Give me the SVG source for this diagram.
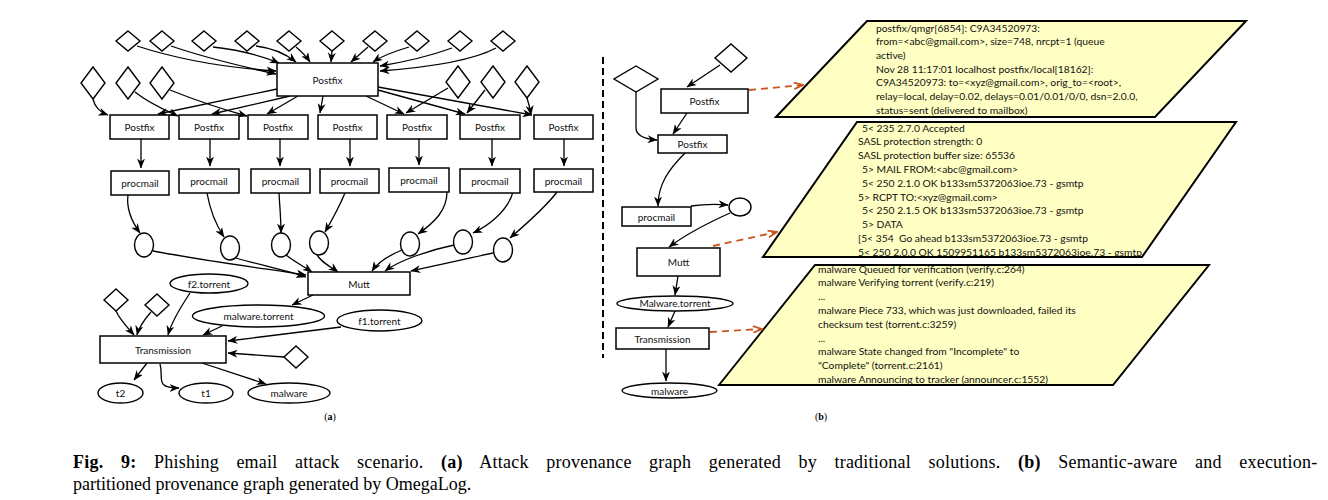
<svg xmlns="http://www.w3.org/2000/svg" width="1328" height="500" viewBox="0 0 1328 500">
<defs>
<style>
.b{fill:#fff;stroke:#000;stroke-width:1.5}
.d{fill:#fff;stroke:#000;stroke-width:1.4}
.t{font-family:Lato,"DejaVu Sans",sans-serif;font-size:10px;fill:#111;text-anchor:middle;dominant-baseline:central}
.e{fill:none;stroke:#000;stroke-width:1.3;marker-end:url(#ah)}
.o{fill:none;stroke:#c8561e;stroke-width:1.8;stroke-dasharray:7,5;marker-end:url(#oh)}
.p{fill:#ffffc4;stroke:#000;stroke-width:2}
.l{font-family:Lato,"DejaVu Sans",sans-serif;font-size:10.3px;fill:#111}
.cap{font-family:"Liberation Serif","Times New Roman",serif;font-size:19.5px;fill:#000}
.sl{font-family:"Liberation Serif",serif;font-size:10px;fill:#000;text-anchor:middle}
</style>
<marker id="ah" viewBox="0 0 10 8" refX="9.5" refY="4" markerWidth="10" markerHeight="8" markerUnits="userSpaceOnUse" orient="auto"><path d="M0,0 L10,4 L0,8 L3,4 Z" fill="#000"/></marker>
<marker id="oh" viewBox="0 0 10 8" refX="9" refY="4" markerWidth="11" markerHeight="8" markerUnits="userSpaceOnUse" orient="auto"><path d="M0,0.7 L9,4 L0,7.3" fill="none" stroke="#c8561e" stroke-width="1.8"/></marker>
</defs>
<rect width="1328" height="500" fill="#fff"/>

<!-- ===== (a) left graph ===== -->
<g id="connectors-a">
<path class="e" d="M137,46 C180,60 230,68 276,71"/>
<path class="e" d="M171,46 C200,56 240,66 276,74"/>
<path class="e" d="M213,47 C240,50 262,56 279,63"/>
<path class="e" d="M256,46 C272,48 286,54 296,62"/>
<path class="e" d="M296,47 C302,52 306,56 310,62"/>
<path class="e" d="M332,51 L331,62"/>
<path class="e" d="M368,47 L351,62"/>
<path class="e" d="M409,47 C392,52 382,56 373,62"/>
<path class="e" d="M452,48 C430,56 404,62 380,66"/>
<path class="e" d="M496,48 C470,62 420,68 380,71"/>
<path class="e" d="M93,99 C95,108 100,112 108,115"/>
<path class="e" d="M135,92 C150,104 165,110 178,116"/>
<path class="e" d="M170,90 C200,102 225,110 247,116"/>
<path class="e" d="M277,89 L158,114"/>
<path class="e" d="M290,96 L212,114"/>
<path class="e" d="M298,96 L267,114"/>
<path class="e" d="M323,96 L320,113"/>
<path class="e" d="M366,96 L404,114"/>
<path class="e" d="M378,90 L465,114"/>
<path class="e" d="M378,87 L532,115"/>
<path class="e" d="M448,88 L406,113"/>
<path class="e" d="M485,90 L467,113"/>
<path class="e" d="M527,98 C529,104 530,108 531,115"/>
<path class="e" d="M141,139 L141,168"/>
<path class="e" d="M210,139 L210,166"/>
<path class="e" d="M280,139 L280,166"/>
<path class="e" d="M350,139 L350,166"/>
<path class="e" d="M419,139 L419,165"/>
<path class="e" d="M492,139 L492,166"/>
<path class="e" d="M564,139 L564,166"/>
<path class="e" d="M128,195 C126,210 132,222 140,233"/>
<path class="e" d="M207,193 C210,210 216,225 224,237"/>
<path class="e" d="M279,193 C280,210 281,220 281,233"/>
<path class="e" d="M345,193 C340,205 332,220 325,232"/>
<path class="e" d="M447,192 C447,210 435,222 418,234"/>
<path class="e" d="M513,192 C508,210 490,225 473,233"/>
<path class="e" d="M557,192 C545,208 525,225 510,238"/>
<path class="e" d="M153,251 C200,260 260,268 306,275"/>
<path class="e" d="M236,258 C260,265 285,270 306,277"/>
<path class="e" d="M286,255 C295,262 303,266 312,272"/>
<path class="e" d="M316,253 C320,262 330,266 338,272"/>
<path class="e" d="M402,250 C390,255 378,262 372,271"/>
<path class="e" d="M454,245 C430,250 400,260 385,271"/>
<path class="e" d="M493,253 C470,258 440,265 411,271"/>
<path class="e" d="M313,295 L292,305"/>
<path class="e" d="M190,293 C182,305 172,320 168,335"/>
<path class="e" d="M116,311 C120,320 128,328 134,335"/>
<path class="e" d="M151,312 C144,320 139,327 137,335"/>
<path class="e" d="M222,326 L203,335"/>
<path class="e" d="M341,327 L228,341"/>
<path class="e" d="M284,357 L228,353"/>
<path class="e" d="M147,363 L134,380"/>
<path class="e" d="M160,364 C164,378 154,388 179,388"/>
<path class="e" d="M202,363 L266,384"/>
</g>

<g id="a-top-diamonds">
<polygon class="d" points="128,31 140,41 128,51 116,41"/>
<polygon class="d" points="162,31 174,41 162,51 150,41"/>
<polygon class="d" points="204,31 216,41 204,51 192,41"/>
<polygon class="d" points="247,31 259,41 247,51 235,41"/>
<polygon class="d" points="289,31 301,41 289,51 277,41"/>
<polygon class="d" points="332,31 344,41 332,51 320,41"/>
<polygon class="d" points="375,31 387,41 375,51 363,41"/>
<polygon class="d" points="417,31 429,41 417,51 405,41"/>
<polygon class="d" points="460,31 472,41 460,51 448,41"/>
<polygon class="d" points="503,31 515,41 503,51 491,41"/>
</g>
<g id="a-mid-diamonds">
<polygon class="d" points="93,67 105,83 93,99 81,83"/>
<polygon class="d" points="128,67 140,83 128,99 116,83"/>
<polygon class="d" points="162,67 174,83 162,99 150,83"/>
<polygon class="d" points="458,66 470,82 458,98 446,82"/>
<polygon class="d" points="493,66 505,82 493,98 481,82"/>
<polygon class="d" points="527,66 539,82 527,98 515,82"/>
</g>
<g id="a-postfix-main"><rect class="b" x="277" y="63" width="101" height="33"/><text class="t" x="327.5" y="80">Postfix</text></g>
<g id="a-postfix-1"><rect class="b" x="110" y="115" width="59" height="24"/><text class="t" x="139.5" y="127">Postfix</text></g>
<g id="a-postfix-2"><rect class="b" x="179" y="115" width="60" height="24"/><text class="t" x="209" y="127">Postfix</text></g>
<g id="a-postfix-3"><rect class="b" x="248" y="115" width="60" height="24"/><text class="t" x="278" y="127">Postfix</text></g>
<g id="a-postfix-4"><rect class="b" x="318" y="115" width="59" height="24"/><text class="t" x="347.5" y="127">Postfix</text></g>
<g id="a-postfix-5"><rect class="b" x="387" y="115" width="60" height="24"/><text class="t" x="417" y="127">Postfix</text></g>
<g id="a-postfix-6"><rect class="b" x="460" y="115" width="60" height="24"/><text class="t" x="490" y="127">Postfix</text></g>
<g id="a-postfix-7"><rect class="b" x="534" y="115" width="59" height="24"/><text class="t" x="563.5" y="127">Postfix</text></g>
<g id="a-procmail-1"><rect class="b" x="111" y="171" width="58" height="24"/><text class="t" x="140" y="183">procmail</text></g>
<g id="a-procmail-2"><rect class="b" x="179" y="169" width="60" height="24"/><text class="t" x="209" y="181">procmail</text></g>
<g id="a-procmail-3"><rect class="b" x="251" y="169" width="59" height="24"/><text class="t" x="280.5" y="181">procmail</text></g>
<g id="a-procmail-4"><rect class="b" x="320" y="169" width="59" height="24"/><text class="t" x="349.5" y="181">procmail</text></g>
<g id="a-procmail-5"><rect class="b" x="389" y="168" width="60" height="24"/><text class="t" x="419" y="180">procmail</text></g>
<g id="a-procmail-6"><rect class="b" x="460" y="169" width="60" height="24"/><text class="t" x="490" y="181">procmail</text></g>
<g id="a-procmail-7"><rect class="b" x="534" y="169" width="59" height="23"/><text class="t" x="563.5" y="180.5">procmail</text></g>
<g id="a-circles">
<ellipse class="d" cx="144" cy="245" rx="9.5" ry="12"/>
<ellipse class="d" cx="230" cy="248" rx="9.5" ry="12"/>
<ellipse class="d" cx="281" cy="245" rx="9.5" ry="12"/>
<ellipse class="d" cx="319" cy="243" rx="9.5" ry="12"/>
<ellipse class="d" cx="410" cy="244" rx="9.5" ry="12"/>
<ellipse class="d" cx="463" cy="242" rx="9.5" ry="12"/>
<ellipse class="d" cx="503" cy="250" rx="9.5" ry="12"/>
</g>
<g id="a-mutt"><rect class="b" x="308" y="272" width="102" height="23"/><text class="t" x="359" y="283.5">Mutt</text></g>
<g id="a-f2"><ellipse class="d" cx="209" cy="283.5" rx="39" ry="9.5"/><text class="t" x="209" y="283.5">f2.torrent</text></g>
<g id="a-malware-torrent"><ellipse class="d" cx="258.5" cy="316" rx="66" ry="11"/><text class="t" x="258.5" y="315.5">malware.torrent</text></g>
<g id="a-f1"><ellipse class="d" cx="379.5" cy="320.5" rx="42.5" ry="10.5"/><text class="t" x="379.5" y="320.5">f1.torrent</text></g>
<g id="a-diamonds-low">
<polygon class="d" points="116,289 128,300 116,311 104,300"/>
<polygon class="d" points="157,294 169,305 157,316 145,305"/>
<polygon class="d" points="296,346 308,357 296,368 284,357"/>
</g>
<g id="a-transmission"><rect class="b" x="100" y="336" width="126" height="27"/><text class="t" x="163" y="349.5">Transmission</text></g>
<g id="a-t2"><ellipse class="d" cx="120.5" cy="393" rx="22.5" ry="10"/><text class="t" x="120.5" y="393">t2</text></g>
<g id="a-t1"><ellipse class="d" cx="206" cy="393" rx="27" ry="10"/><text class="t" x="206" y="393">t1</text></g>
<g id="a-malware"><ellipse class="d" cx="289" cy="393" rx="41" ry="10"/><text class="t" x="289" y="393">malware</text></g>
<text class="sl" x="330" y="420">(<tspan font-weight="bold">a</tspan>)</text>

<!-- ===== divider ===== -->
<line x1="603" y1="57" x2="603" y2="358" stroke="#000" stroke-width="2" stroke-dasharray="7,4"/>

<!-- ===== (b) right graph ===== -->
<g id="b-logs">
<g id="b-log-1">
<polygon class="p" points="776,117 867,21 1246,21 1155,117"/>
<text class="l" x="876" y="31.5">postfix/qmgr[6854]: C9A34520973:</text>
<text class="l" x="876" y="45.2">from=&lt;abc@gmail.com&gt;, size=748, nrcpt=1 (queue</text>
<text class="l" x="876" y="58.9">active)</text>
<text class="l" x="876" y="72.6">Nov 28 11:17:01 localhost postfix/local[18162]:</text>
<text class="l" x="876" y="86.3">C9A34520973: to=&lt;xyz@gmail.com&gt;, orig_to=&lt;root&gt;,</text>
<text class="l" x="876" y="100">relay=local, delay=0.02, delays=0.01/0.01/0/0, dsn=2.0.0,</text>
<text class="l" x="876" y="113.7">status=sent (delivered to mailbox)</text>
</g>
<g id="b-log-2">
<polygon class="p" points="763,257 857,122 1236,122 1142,257"/>
<text class="l" x="862" y="131.5">5&lt; 235 2.7.0 Accepted</text>
<text class="l" x="858" y="145.3">SASL protection strength: 0</text>
<text class="l" x="858" y="159.1">SASL protection buffer size: 65536</text>
<text class="l" x="862" y="172.9">5&gt; MAIL FROM:&lt;abc@gmail.com&gt;</text>
<text class="l" x="862" y="186.7">5&lt; 250 2.1.0 OK b133sm5372063ioe.73 - gsmtp</text>
<text class="l" x="858" y="200.5">5&gt; RCPT TO:&lt;xyz@gmail.com&gt;</text>
<text class="l" x="862" y="214.3">5&lt; 250 2.1.5 OK b133sm5372063ioe.73 - gsmtp</text>
<text class="l" x="862" y="228.1">5&gt; DATA</text>
<text class="l" x="858" y="241.9" xml:space="preserve">[5&lt; 354  Go ahead b133sm5372063ioe.73 - gsmtp</text>
<text class="l" x="858" y="255.7">5&lt; 250 2.0.0 OK 1509951165 b133sm5372063ioe.73 - gsmtp</text>
</g>
<g id="b-log-3">
<polygon class="p" points="719,385 815,265 1209,265 1113,385"/>
<text class="l" x="818" y="272.5">malware Queued for verification (verify.c:264)</text>
<text class="l" x="818" y="286.3">malware Verifying torrent (verify.c:219)</text>
<text class="l" x="818" y="300.1">...</text>
<text class="l" x="818" y="313.9">malware Piece 733, which was just downloaded, failed its</text>
<text class="l" x="818" y="327.7">checksum test (torrent.c:3259)</text>
<text class="l" x="818" y="341.5">...</text>
<text class="l" x="818" y="355.3">malware State changed from "Incomplete" to</text>
<text class="l" x="818" y="369.1">"Complete" (torrent.c:2161)</text>
<text class="l" x="818" y="382.9">malware Announcing to tracker (announcer.c:1552)</text>
</g>
</g>

<g id="connectors-b">
<path class="e" d="M720,65 L687,87"/>
<path class="e" d="M687,113 L673,134"/>
<path class="e" d="M636,92 L636,128 C636,136 645,139 657,140"/>
<path class="e" d="M685,153 C668,170 658,185 658,206"/>
<path class="e" d="M691,206 C705,204 715,204 728,205"/>
<path class="e" d="M730,213 C710,222 685,235 669,247"/>
<path class="e" d="M678,276 L675,295"/>
<path class="e" d="M675,311 L668,327"/>
<path class="e" d="M666,349 L666,381"/>
<path class="o" d="M749,90 L803,85"/>
<path class="o" d="M713,246 L777,232"/>
<path class="o" d="M710,332 L762,329"/>
</g>
<g id="b-diamond-1"><polygon class="d" points="731,44 747,58 731,72 715,58"/></g>
<g id="b-diamond-2"><polygon class="d" points="636,66 658,79 636,92 614,79"/></g>
<g id="b-postfix-1"><rect class="b" x="661" y="89" width="87" height="24"/><text class="t" x="704.5" y="101">Postfix</text></g>
<g id="b-postfix-2"><rect class="b" x="658" y="135" width="69" height="18"/><text class="t" x="692.5" y="144">Postfix</text></g>
<g id="b-procmail"><rect class="b" x="622" y="207" width="69" height="19"/><text class="t" x="656.5" y="216.5">procmail</text></g>
<g id="b-circle"><ellipse class="d" cx="740" cy="207" rx="11" ry="9"/></g>
<g id="b-mutt"><rect class="b" x="637" y="248" width="83" height="28"/><text class="t" x="678.5" y="262">Mutt</text></g>
<g id="b-malware-torrent"><ellipse class="d" cx="675" cy="303.5" rx="58" ry="7.5"/><text class="t" x="675" y="303">Malware.torrent</text></g>
<g id="b-transmission"><rect class="b" x="616" y="328" width="93" height="21"/><text class="t" x="662.5" y="338.5">Transmission</text></g>
<g id="b-malware"><ellipse class="d" cx="669.5" cy="390.5" rx="47.5" ry="7.5"/><text class="t" x="669.5" y="390.5">malware</text></g>
<text class="sl" x="821" y="420">(<tspan font-weight="bold">b</tspan>)</text>

<!-- ===== caption ===== -->
<g transform="translate(73,0) scale(0.925,1)">
<text class="cap" x="0" y="468" word-spacing="13.8" letter-spacing="0.25"><tspan font-weight="bold">Fig. 9:</tspan> Phishing email attack scenario. <tspan font-weight="bold">(a)</tspan> Attack provenance graph generated by traditional solutions. <tspan font-weight="bold">(b)</tspan> Semantic-aware and execution-</text>
<text class="cap" x="0" y="490">partitioned provenance graph generated by OmegaLog.</text>
</g>
</svg>
